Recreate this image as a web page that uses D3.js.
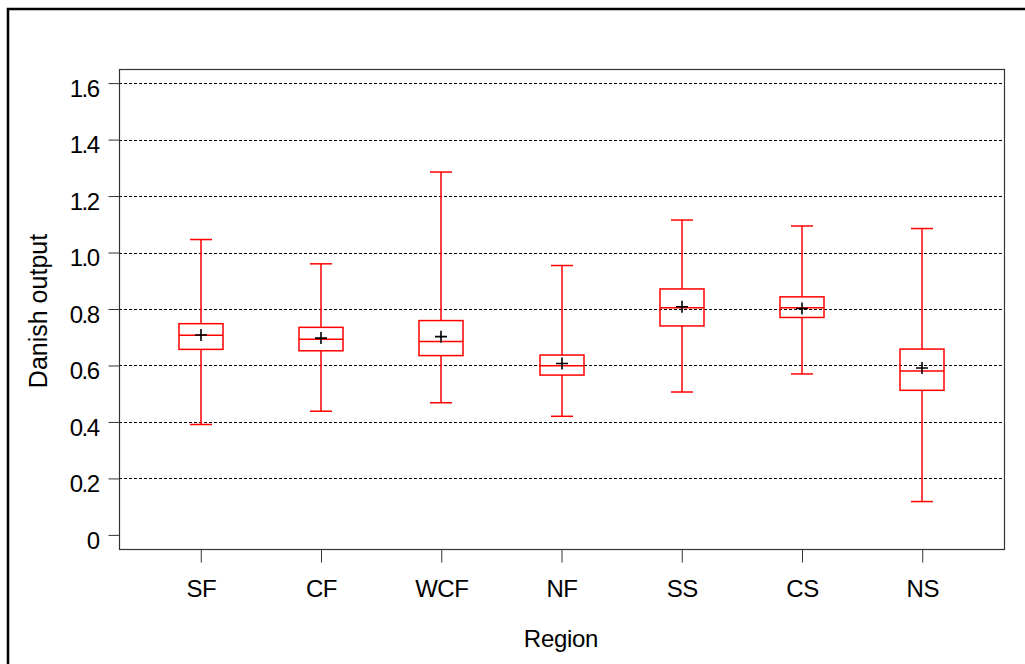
<!DOCTYPE html>
<html lang="en">
<head>
    <meta charset="UTF-8">
    <style>
        body {
            margin: 0;
            padding: 0;
            background-color: #fff;
            overflow: hidden;
        }

        #chart {
            display: block;
        }

        text {
            font-family: "Liberation Sans", Arial, sans-serif;
            fill: #000;
        }

        .grid line {
            stroke: #000;
            stroke-width: 1px;
            stroke-dasharray: 3, 2;
        }

        .box rect, .box line {
            stroke: #ff0000;
            stroke-width: 1.5px;
            fill: none;
        }

        .mean {
            stroke: #000;
            stroke-width: 1.6px;
        }
    </style>
</head>
<body>
    <svg id="chart"></svg>

    <script src="https://d3js.org/d3.v7.min.js"></script>
    <script>
        const width = 1025;
        const height = 664;

        // data
        const regions = ["SF", "CF", "WCF", "NF", "SS", "CS", "NS"];
        const whiskerLow = [0.391, 0.438, 0.468, 0.420, 0.506, 0.570, 0.118];
        const q1 = [0.657, 0.652, 0.635, 0.566, 0.740, 0.770, 0.512];
        const medians = [0.707, 0.693, 0.685, 0.599, 0.804, 0.804, 0.580];
        const q3 = [0.748, 0.735, 0.759, 0.637, 0.871, 0.843, 0.658];
        const whiskerHigh = [1.046, 0.960, 1.285, 0.954, 1.115, 1.094, 1.085];
        const means = [0.708, 0.697, 0.702, 0.607, 0.808, 0.802, 0.591];
        const yTicks = [0, 0.2, 0.4, 0.6, 0.8, 1.0, 1.2, 1.4, 1.6];

        const plot = { left: 119, right: 1004, top: 69, bottom: 549 };

        const svg = d3.select("#chart")
            .attr("width", width)
            .attr("height", height);

        // outer frame (runs off the right and bottom edge)
        svg.append("rect")
            .attr("x", 8)
            .attr("y", 9)
            .attr("width", 1100)
            .attr("height", 800)
            .attr("fill", "none")
            .attr("stroke", "#000")
            .attr("stroke-width", 2.5);

        const y = d3.scaleLinear()
            .domain([-0.05, 1.65])
            .range([plot.bottom, plot.top]);

        const x = d3.scalePoint()
            .domain(regions)
            .range([plot.left, plot.right])
            .padding(0.68);

        // dashed reference lines
        svg.append("g")
            .attr("class", "grid")
            .selectAll("line")
            .data(yTicks.filter(d => d > 0))
            .enter().append("line")
            .attr("x1", plot.left)
            .attr("x2", plot.right)
            .attr("y1", d => Math.round(y(d)) + 0.5)
            .attr("y2", d => Math.round(y(d)) + 0.5);

        // plot frame
        svg.append("rect")
            .attr("x", plot.left + 0.5)
            .attr("y", plot.top + 0.5)
            .attr("width", plot.right - plot.left)
            .attr("height", plot.bottom - plot.top)
            .attr("fill", "none")
            .attr("stroke", "#333")
            .attr("stroke-width", 1.2);

        // y axis
        const yAxis = svg.append("g")
            .attr("transform", `translate(${plot.left + 0.5},0)`)
            .call(d3.axisLeft(y)
                .tickValues(yTicks)
                .tickSize(11)
                .tickPadding(10)
                .tickFormat(d => d === 0 ? "0" : d3.format(".1f")(d)));
        yAxis.select(".domain").remove();
        yAxis.selectAll(".tick line").attr("stroke", "#333");
        yAxis.selectAll(".tick text")
            .attr("font-size", 24)
            .attr("letter-spacing", -1.5)
            .attr("dy", "0.55em");

        // x axis
        const xAxis = svg.append("g")
            .attr("transform", `translate(0,${plot.bottom + 0.5})`)
            .call(d3.axisBottom(x)
                .tickSize(13)
                .tickPadding(17));
        xAxis.select(".domain").remove();
        xAxis.selectAll(".tick line").attr("stroke", "#333");
        xAxis.selectAll(".tick text")
            .attr("font-size", 24)
            .attr("letter-spacing", -0.5);

        // axis titles
        svg.append("text")
            .attr("transform", "translate(47,311) rotate(-90)")
            .attr("text-anchor", "middle")
            .attr("font-size", 25)
            .text("Danish output");

        svg.append("text")
            .attr("x", 561)
            .attr("y", 647)
            .attr("text-anchor", "middle")
            .attr("font-size", 24)
            .attr("letter-spacing", -0.3)
            .text("Region");

        // boxes
        const boxW = 44;
        const capW = 22;
        const rows = regions.map((r, i) => ({
            region: r,
            lo: whiskerLow[i],
            q1: q1[i],
            med: medians[i],
            q3: q3[i],
            hi: whiskerHigh[i],
            mean: means[i]
        }));

        const box = svg.append("g")
            .selectAll("g")
            .data(rows)
            .enter().append("g")
            .attr("class", "box")
            .attr("transform", d => `translate(${Math.round(x(d.region))},0)`);

        box.append("line")
            .attr("x1", 0).attr("x2", 0)
            .attr("y1", d => y(d.hi))
            .attr("y2", d => y(d.q3));
        box.append("line")
            .attr("x1", 0).attr("x2", 0)
            .attr("y1", d => y(d.q1))
            .attr("y2", d => y(d.lo));
        box.append("line")
            .attr("x1", -capW / 2).attr("x2", capW / 2)
            .attr("y1", d => y(d.hi))
            .attr("y2", d => y(d.hi));
        box.append("line")
            .attr("x1", -capW / 2).attr("x2", capW / 2)
            .attr("y1", d => y(d.lo))
            .attr("y2", d => y(d.lo));
        box.append("rect")
            .attr("x", -boxW / 2)
            .attr("width", boxW)
            .attr("y", d => y(d.q3))
            .attr("height", d => y(d.q1) - y(d.q3));
        box.append("line")
            .attr("x1", -boxW / 2).attr("x2", boxW / 2)
            .attr("y1", d => y(d.med))
            .attr("y2", d => y(d.med));

        // mean markers
        box.append("path")
            .attr("class", "mean")
            .attr("d", d => {
                const my = y(d.mean);
                return `M-6,${my}H6M0,${my - 6}V${my + 6}`;
            });
    </script>
</body>
</html>
